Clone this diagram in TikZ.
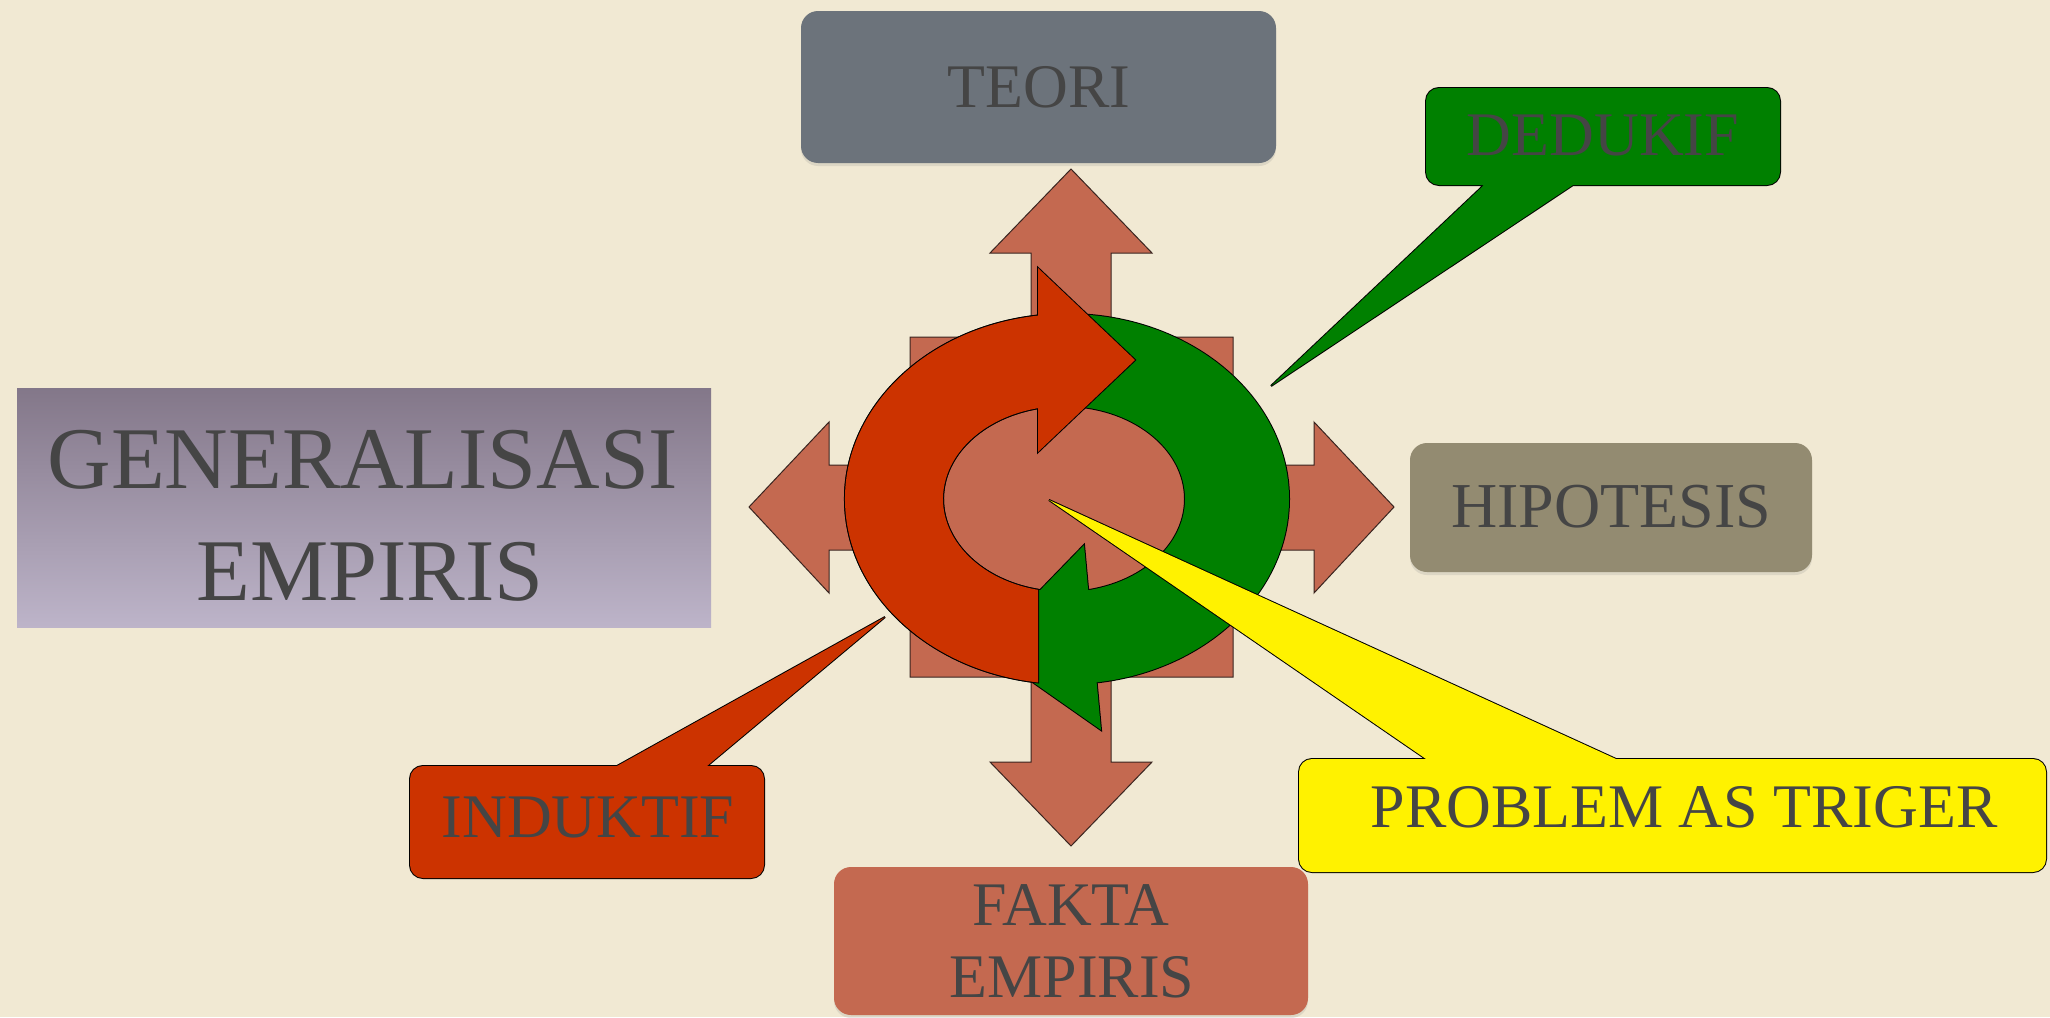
\documentclass[tikz,border=0pt]{standalone}
\usepackage{fontspec}
\setmainfont{Liberation Serif}
\usetikzlibrary{shadows}
\definecolor{paper}{HTML}{F1E9D3}
\definecolor{salmon}{HTML}{C46950}
\definecolor{loopred}{HTML}{CC3300}
\definecolor{loopgreen}{HTML}{008000}
\definecolor{teorigray}{HTML}{6C737B}
\definecolor{hipgray}{HTML}{938B71}
\definecolor{gentop}{HTML}{837789}
\definecolor{genbot}{HTML}{BDB4C9}
\definecolor{ink}{HTML}{454545}
\definecolor{rimcol}{HTML}{3A2520}
\begin{document}
\begin{tikzpicture}[x=0.5pt, y=-0.5pt,
  txt/.style={text=ink, inner sep=0pt, anchor=base, font=\fontsize{31}{36}\selectfont},
  bigtxt/.style={txt, font=\fontsize{44}{50}\selectfont},
  outl/.style={draw=black, line width=1pt, line join=miter},
  card/.style={rounded corners=8.5pt, drop shadow={shadow xshift=0pt, shadow yshift=-1.5pt, opacity=0.18}},
]
% paper
\fill[paper] (0,0) rectangle (2050,1017);
\useasboundingbox (0,0) rectangle (2050,1017);

% generalisation panel
\shade[top color=gentop, bottom color=genbot] (17,388) rectangle (711,627);

% four-way arrow behind the cycle
\filldraw[fill=salmon, draw=rimcol, line width=0.5pt]
  (1071,169) -- (1152,253) -- (1111,253) -- (1111,337) -- (1233,337) -- (1233,465)
  -- (1314,465) -- (1314,422) -- (1394,507) -- (1314,593) -- (1314,550) -- (1233,550)
  -- (1233,677) -- (1111,677) -- (1111,762) -- (1152,762) -- (1071,846) -- (990,762)
  -- (1031,762) -- (1031,677) -- (910,677) -- (910,550) -- (829,550) -- (829,593)
  -- (749,507) -- (829,422) -- (829,465) -- (910,465) -- (910,337) -- (1031,337)
  -- (1031,253) -- (990,253) -- cycle;

% rounded cards
\fill[teorigray, card] (801,11) rectangle (1276,163);
\fill[hipgray, card] (1410,443) rectangle (1812,572);
\fill[salmon, card] (834,867) rectangle (1308,1015);

% green half of the cycle: outlines first, fills on top keep only the outer contour
\draw[outl] (1084,545) -- (984,648) -- (1101,730) -- cycle;
\draw[outl] (1067,499) ellipse [x radius=222, y radius=185];
\draw[outl] (1064,499) ellipse [x radius=121, y radius=93];
\fill[loopgreen] (1084,545) -- (984,648) -- (1101,730) -- cycle;
\fill[loopgreen, even odd rule] (1067,499) ellipse [x radius=222, y radius=185]
  (1064,499) ellipse [x radius=121, y radius=93];

% red half of the cycle
\draw[outl] (1038,268) -- (1135,360) -- (1038,452) -- cycle;
\draw[outl] (1038,315.6) arc[start angle=262.5, end angle=97.5, x radius=222, y radius=185]
  -- (1038,589.8) arc[start angle=102.4, end angle=257.6, x radius=121, y radius=93] -- cycle;
\fill[loopred] (1038,268) -- (1135,360) -- (1038,452) -- cycle;
\fill[loopred] (1038,315.6) arc[start angle=262.5, end angle=97.5, x radius=222, y radius=185]
  -- (1038,589.8) arc[start angle=102.4, end angle=257.6, x radius=121, y radius=93] -- cycle;

% callouts
\coordinate (indtip) at (885,617);
\coordinate (dedtip) at (1271,386);
\coordinate (probtip) at (1049,500);
\path[fill=loopred, preaction={outl}] (410,766) [rounded corners=6.5pt] rectangle (764,878)
  [sharp corners] (617,766) -- (indtip) -- (707,766) -- cycle;
\path[fill=loopgreen, preaction={outl}] (1426,88) [rounded corners=6.5pt] rectangle (1780,185)
  [sharp corners] (1484,185) -- (dedtip) -- (1573,185) -- cycle;
\path[fill=yellow, preaction={outl}] (1299,759) [rounded corners=6.5pt] rectangle (2046,872)
  [sharp corners] (1426,759) -- (probtip) -- (1616,759) -- cycle;

% texts
\node[txt] (teori) at (1039,107) {TEORI};
\node[txt] (dedukif) at (1603,155) {DEDUKIF};
\node[txt, font=\fontsize{32}{36}\selectfont] (hipotesis) at (1611,527) {HIPOTESIS};
\node[txt] (induktif) at (588,837) {INDUKTIF};
\node[txt] (problem) at (1684,827) {PROBLEM AS TRIGER};
\node[txt] (fakta) at (1071,925) {FAKTA};
\node[txt] (faktab) at (1072,997) {EMPIRIS};
\node[bigtxt] (gen) at (363,488) {GENERALISASI};
\node[bigtxt] (genb) at (370,600) {EMPIRIS};
\end{tikzpicture}
\end{document}
